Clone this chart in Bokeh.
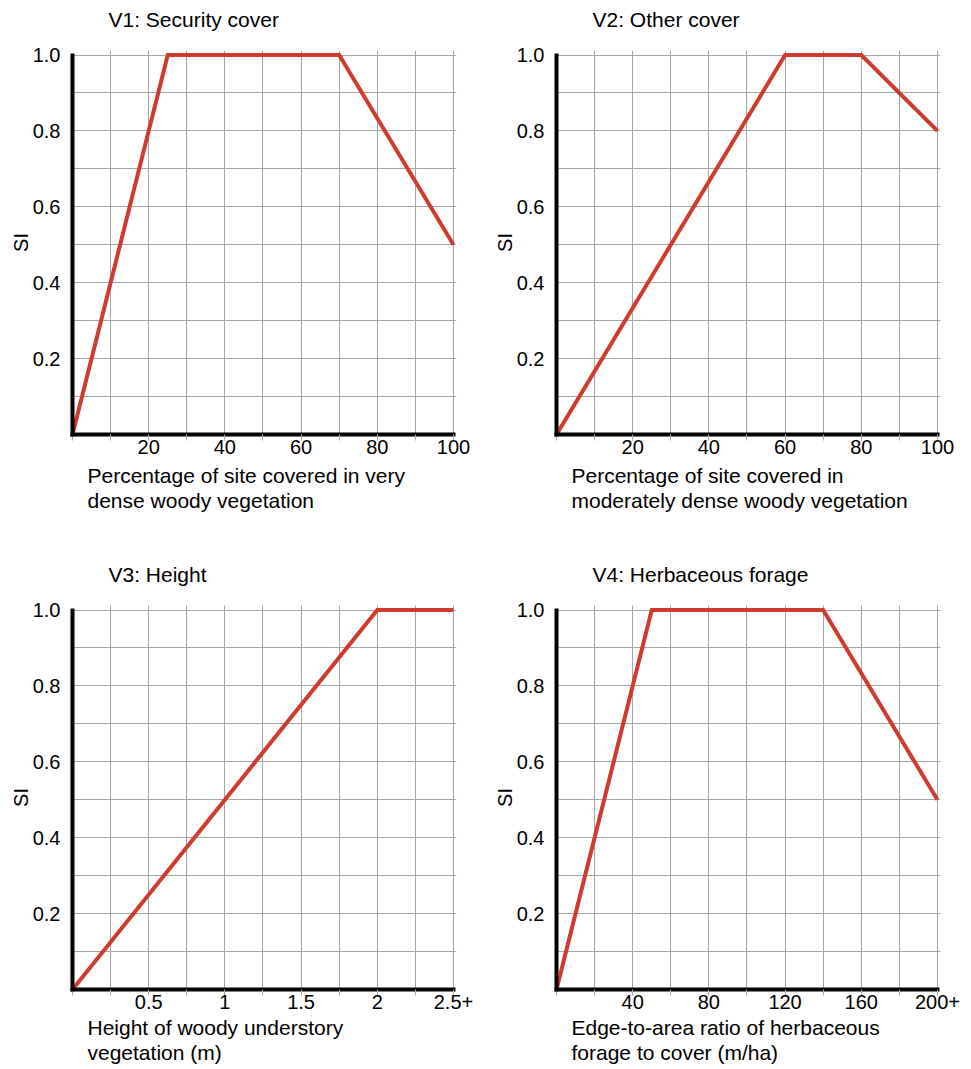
from bokeh.plotting import figure
from bokeh.layouts import column, row
from bokeh.models import Range1d, FixedTicker, Title
from bokeh.embed import file_html
from bokeh.resources import INLINE

FONT = "Liberation Sans"
RED = "#cf3b2f"
GRID = "#a6a6a6"

# ---- data ----
v1_x = [0, 25, 70, 100]
v1_si = [0, 1, 1, 0.5]
v2_x = [0, 60, 80, 100]
v2_si = [0, 1, 1, 0.8]
v3_x = [0, 2, 2.5]
v3_si = [0, 1, 1]
v4_x = [0, 50, 140, 200]
v4_si = [0, 1, 1, 0.5]

pct_ticks = [20, 40, 60, 80, 100]
pct_labels = ["20", "40", "60", "80", "100"]
height_ticks = [0.5, 1, 1.5, 2, 2.5]
height_labels = ["0.5", "1", "1.5", "2", "2.5+"]
edge_ticks = [40, 80, 120, 160, 200]
edge_labels = ["40", "80", "120", "160", "200+"]
si_ticks = [0.2, 0.4, 0.6, 0.8, 1.0]
si_labels = ["0.2", "0.4", "0.6", "0.8", "1.0"]
si_minor = [0.1, 0.3, 0.5, 0.7, 0.9]

titles = ["V1: Security cover", "V2: Other cover", "V3: Height", "V4: Herbaceous forage"]
xlabel_lines = [
    ("Percentage of site covered in very", "dense woody vegetation"),
    ("Percentage of site covered in", "moderately dense woody vegetation"),
    ("Height of woody understory", "vegetation (m)"),
    ("Edge-to-area ratio of herbaceous", "forage to cover (m/ha)"),
]


def panel(title, xs, ys, xmax, ticks, labels, xl, width, height, right, bottom,
          xlabel_gap):
    p = figure(width=width, height=height,
               x_range=Range1d(0, xmax * 1.008), y_range=Range1d(0, 1.012),
               output_backend="svg", toolbar_location=None, title=None,
               min_border_left=72, min_border_right=right,
               min_border_top=50, min_border_bottom=bottom)
    p.outline_line_color = None
    p.background_fill_color = "white"
    p.border_fill_color = "white"

    step = xmax / 10
    minor = [round(k * step, 6) for k in range(11)
             if all(abs(k * step - t) > 1e-9 for t in ticks)]

    # x axis
    p.xaxis.ticker = FixedTicker(ticks=ticks, minor_ticks=minor)
    p.xaxis.major_label_overrides = dict(zip(ticks, labels))
    p.xaxis.bounds = (0, xmax)
    p.xaxis.major_tick_line_color = GRID
    p.xaxis.minor_tick_line_color = GRID
    p.xaxis.major_tick_out = 6
    p.xaxis.major_tick_in = 0
    p.xaxis.minor_tick_out = 6
    p.xaxis.minor_tick_in = 0
    p.xaxis.major_label_standoff = -1

    # y axis
    p.yaxis.ticker = FixedTicker(ticks=si_ticks, minor_ticks=si_minor)
    p.yaxis.major_label_overrides = dict(zip(si_ticks, si_labels))
    p.yaxis.bounds = (0, 1)
    p.yaxis.major_tick_line_color = None
    p.yaxis.minor_tick_line_color = None
    p.yaxis.major_tick_out = 0
    p.yaxis.major_tick_in = 0
    p.yaxis.major_label_standoff = 8
    p.yaxis.axis_label = "SI"
    p.yaxis.axis_label_standoff = -2
    p.yaxis.axis_label_text_font = FONT
    p.yaxis.axis_label_text_font_size = "20px"
    p.yaxis.axis_label_text_font_style = "normal"
    p.yaxis.axis_label_text_color = "black"

    for ax in (p.xaxis, p.yaxis):
        ax.axis_line_width = 4
        ax.axis_line_color = "black"
        ax.axis_line_cap = "square"
        ax.major_label_text_font = FONT
        ax.major_label_text_font_size = "20px"
        ax.major_label_text_color = "black"

    # grid
    p.xgrid.grid_line_color = GRID
    p.xgrid.minor_grid_line_color = GRID
    p.ygrid.grid_line_color = GRID
    p.ygrid.minor_grid_line_color = GRID
    p.grid.grid_line_width = 1
    p.grid.minor_grid_line_width = 1

    # spacer between frame and panel title (first added = closest to frame)
    p.add_layout(Title(text=" ", text_font_size="1px", standoff=17), "above")
    # panel title
    p.add_layout(Title(text=title, align="left", offset=36, standoff=0,
                       text_font=FONT, text_font_size="21px",
                       text_font_style="normal", text_color="black"), "above")

    # x axis label: two left-aligned lines below the axis
    p.add_layout(Title(text="\n".join(xl), align="left", vertical_align="top",
                       offset=15, standoff=xlabel_gap, text_font=FONT,
                       text_font_size="21px", text_font_style="normal",
                       text_color="black", text_line_height=1.1), "below")

    p.line(xs, ys, line_color=RED, line_width=4, line_join="miter")
    return p


p1 = panel(titles[0], v1_x, v1_si, 100, pct_ticks, pct_labels, xlabel_lines[0],
           484, 555, 28, 121, 14)
p2 = panel(titles[1], v2_x, v2_si, 100, pct_ticks, pct_labels, xlabel_lines[1],
           486, 555, 30, 121, 14)
p3 = panel(titles[2], v3_x, v3_si, 2.5, height_ticks, height_labels, xlabel_lines[2],
           484, 514, 28, 80, 8)
p4 = panel(titles[3], v4_x, v4_si, 200, edge_ticks, edge_labels, xlabel_lines[3],
           486, 514, 30, 80, 8)

layout = column(row(p1, p2), row(p3, p4))
open("out.html", "w").write(file_html(layout, INLINE))
